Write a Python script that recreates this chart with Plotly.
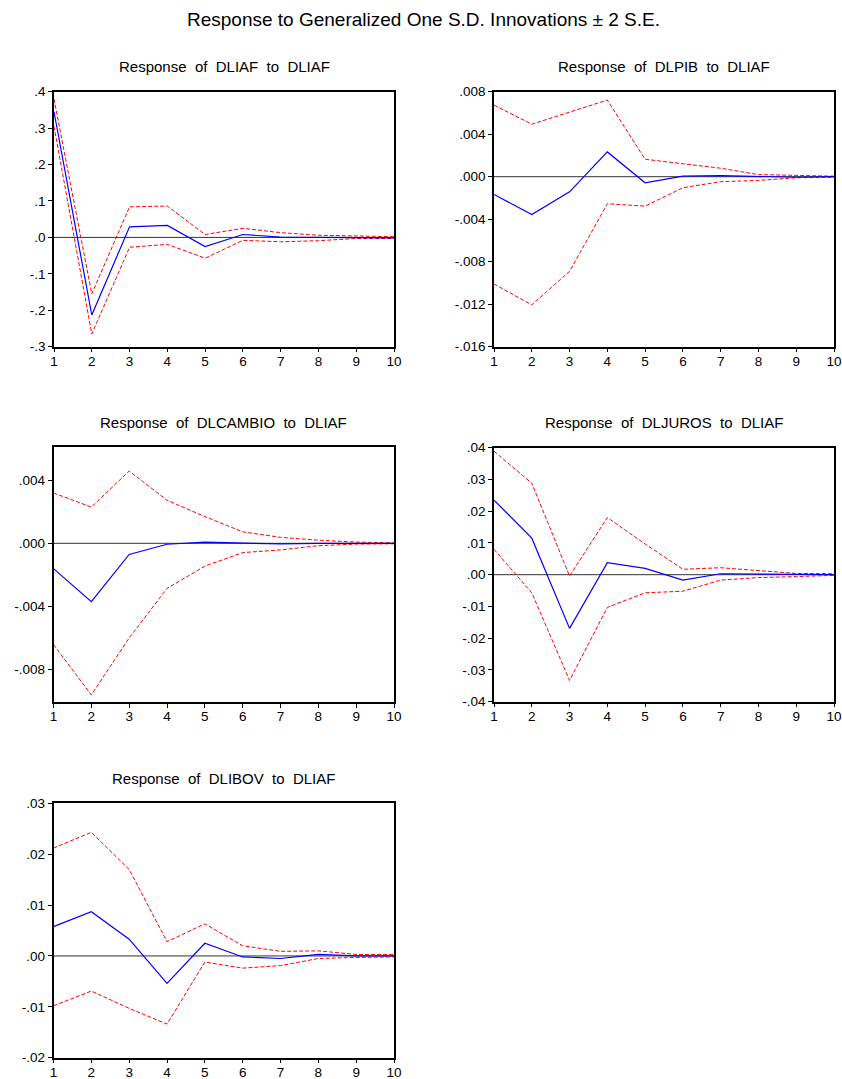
import plotly.graph_objects as go

W, H = 842, 1079
periods = list(range(1, 11))

titles = [
    "Response of DLIAF to DLIAF",
    "Response of DLPIB to DLIAF",
    "Response of DLCAMBIO to DLIAF",
    "Response of DLJUROS to DLIAF",
    "Response of DLIBOV to DLIAF",
]

# DLIAF
liaf_resp = [0.345, -0.213, 0.029, 0.033, -0.025, 0.008, 0.001, 0.0, 0.0, -0.001]
liaf_up = [0.38, -0.155, 0.084, 0.086, 0.008, 0.025, 0.013, 0.006, 0.004, 0.002]
liaf_lo = [0.305, -0.265, -0.027, -0.019, -0.057, -0.008, -0.012, -0.009, -0.003, -0.003]

# DLPIB
pib_resp = [-0.00167, -0.00356, -0.00142, 0.00233, -0.00057, 0.00006, 0.0001, 0.0, -0.00005, 0.0]
pib_up = [0.00674, 0.00494, 0.00608, 0.00721, 0.00164, 0.00123, 0.0008, 0.0002, 0.0001, 0.00005]
pib_lo = [-0.0101, -0.01206, -0.00891, -0.00255, -0.00277, -0.00104, -0.00047, -0.00035, -0.0001, -0.00005]

# DLCAMBIO
cambio_resp = [-0.00161, -0.00371, -0.00071, -0.00006, 0.00008, 0.00004, -0.00004, 0.0, 0.0, 0.0]
cambio_up = [0.0032, 0.0023, 0.00459, 0.00274, 0.0017, 0.00073, 0.00038, 0.0002, 0.00008, 0.00003]
cambio_lo = [-0.00643, -0.00963, -0.00601, -0.00287, -0.00145, -0.00059, -0.00042, -0.00015, -0.00005, -0.00003]

# DLJUROS
juros_resp = [0.0235, 0.0115, -0.0169, 0.0038, 0.002, -0.0017, 0.0003, 0.0002, 0.0, 0.0]
juros_up = [0.0389, 0.0288, -0.0004, 0.018, 0.0097, 0.0017, 0.0022, 0.0013, 0.0004, 0.0003]
juros_lo = [0.008, -0.0057, -0.0333, -0.0103, -0.0057, -0.0052, -0.0017, -0.0009, -0.0006, -0.0002]

# DLIBOV
ibov_resp = [0.00575, 0.0087, 0.0033, -0.0054, 0.0025, -0.0002, -0.0005, 0.0003, 0.0, 0.0]
ibov_up = [0.0212, 0.0243, 0.017, 0.0028, 0.0063, 0.002, 0.0009, 0.001, 0.0003, 0.0003]
ibov_lo = [-0.0098, -0.0069, -0.0103, -0.0134, -0.0012, -0.0024, -0.0019, -0.0005, -0.0003, -0.0002]

# y tick values / labels per panel
yt1 = [0.4, 0.3, 0.2, 0.1, 0.0, -0.1, -0.2, -0.3]
yl1 = [".4", ".3", ".2", ".1", ".0", "-.1", "-.2", "-.3"]
yt2 = [0.008, 0.004, 0.0, -0.004, -0.008, -0.012, -0.016]
yl2 = [".008", ".004", ".000", "-.004", "-.008", "-.012", "-.016"]
yt3 = [0.004, 0.0, -0.004, -0.008]
yl3 = [".004", ".000", "-.004", "-.008"]
yt4 = [0.04, 0.03, 0.02, 0.01, 0.0, -0.01, -0.02, -0.03, -0.04]
yl4 = [".04", ".03", ".02", ".01", ".00", "-.01", "-.02", "-.03", "-.04"]
yt5 = [0.03, 0.02, 0.01, 0.0, -0.01, -0.02]
yl5 = [".03", ".02", ".01", ".00", "-.01", "-.02"]
yranges = [[-0.3, 0.4], [-0.016, 0.008], [-0.0101, 0.0061], [-0.04, 0.04], [-0.02, 0.03]]

panels = [
    (liaf_resp, liaf_up, liaf_lo, yt1, yl1),
    (pib_resp, pib_up, pib_lo, yt2, yl2),
    (cambio_resp, cambio_up, cambio_lo, yt3, yl3),
    (juros_resp, juros_up, juros_lo, yt4, yl4),
    (ibov_resp, ibov_up, ibov_lo, yt5, yl5),
]

# pixel boxes: left, right, top, bottom
boxes = [
    (54, 394, 91.7, 346.7),
    (494, 834, 91.7, 346.7),
    (53.5, 394, 447.3, 702.3),
    (494, 834, 447.7, 701.7),
    (53.5, 394, 803.3, 1057.7),
]

fig = go.Figure()
FONT = "Liberation Sans, Arial, sans-serif"
layout = {}
annotations = []
shapes = []
for i, ((resp, up, lo, tv, tl), (l, r, t, b)) in enumerate(zip(panels, boxes)):
    n = i + 1
    xa = "x" if n == 1 else f"x{n}"
    ya = "y" if n == 1 else f"y{n}"
    for ys, col, dash, w in [(up, "#FF0000", "4px,2px", 1), (lo, "#FF0000", "4px,2px", 1), (resp, "#0000FF", "solid", 1.2)]:
        fig.add_trace(go.Scatter(x=periods, y=ys, mode="lines", xaxis=xa, yaxis=ya,
                                 line=dict(color=col, dash=dash, width=w), showlegend=False,
                                 hoverinfo="skip"))
    xkey = "xaxis" if n == 1 else f"xaxis{n}"
    ykey = "yaxis" if n == 1 else f"yaxis{n}"
    layout[xkey] = dict(domain=[l / W, r / W], anchor=ya, range=[1, 10], tickvals=periods,
                        ticktext=[str(p) for p in periods], ticks="outside", ticklen=4,
                        tickwidth=1, tickcolor="black", showline=True, linecolor="black",
                        linewidth=1.5, mirror=True, showgrid=False, zeroline=False,
                        automargin=False, ticklabelstandoff=-3,
                        tickfont=dict(family=FONT, size=13.5, color="black"), fixedrange=True)
    layout[ykey] = dict(domain=[1 - b / H, 1 - t / H], anchor=xa, range=yranges[i], tickvals=tv,
                        ticktext=tl, ticks="outside", ticklen=4, tickwidth=1, tickcolor="black",
                        showline=True, linecolor="black", linewidth=1.5, mirror=True,
                        showgrid=False, zeroline=False, automargin=False,
                        tickfont=dict(family=FONT, size=13.5, color="black"), fixedrange=True)
    shapes.append(dict(type="line", xref=f"{xa} domain", yref=ya, x0=0, x1=1, y0=0, y1=0,
                       line=dict(color="#333333", width=1), layer="below"))
    annotations.append(dict(text=titles[i].replace(" ", " \u00a0"), x=(l + r) / 2 / W, y=1 - (t - 25) / H,
                            xref="paper", yref="paper", showarrow=False,
                            xanchor="center", yanchor="middle",
                            font=dict(family=FONT, size=15, color="black")))

annotations.append(dict(text="Response to Generalized One S.D. Innovations \u00b1 2 S.E.",
                        x=423 / W, y=1 - 20 / H, xref="paper", yref="paper", showarrow=False,
                        xanchor="center", yanchor="middle",
                        font=dict(family=FONT, size=19, color="black")))

fig.update_layout(width=W, height=H, margin=dict(l=0, r=0, t=0, b=0, autoexpand=False),
                  paper_bgcolor="white", plot_bgcolor="white",
                  annotations=annotations, shapes=shapes, **layout)

fig.write_html("out.html", config={"displayModeBar": False},
               post_script=("document.documentElement.style.margin='0';"
                            "document.documentElement.style.overflow='hidden';"
                            "document.body.style.margin='0';document.body.style.padding='0';"
                            "document.body.style.overflow='hidden';"))
